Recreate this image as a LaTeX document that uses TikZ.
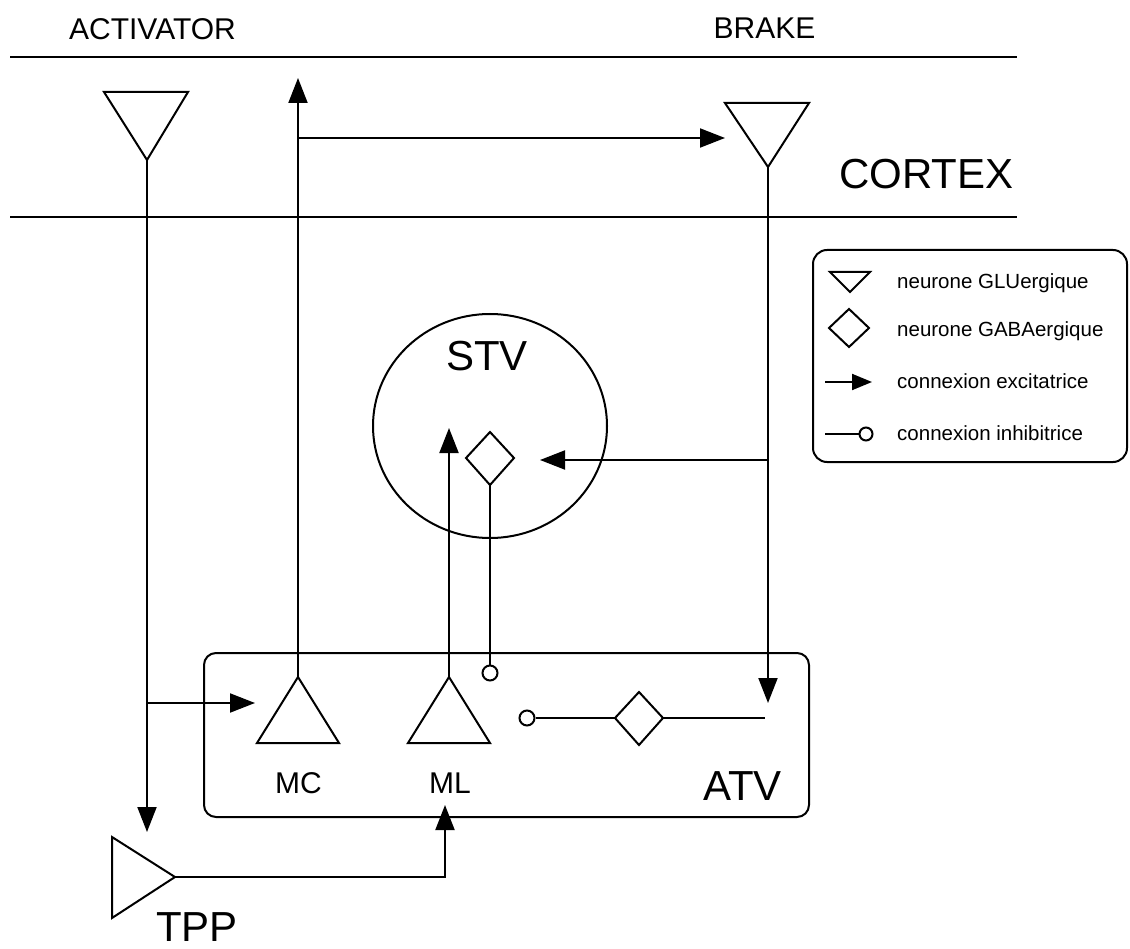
\documentclass[tikz,border=0pt]{standalone}
\usepackage{fontspec}
\setmainfont{Liberation Sans}
\usetikzlibrary{arrows.meta}
\begin{document}
\begin{tikzpicture}[x=1pt,y=-1pt,
  ln/.style={line width=2pt},
  exc/.style={line width=2pt,-{Triangle[length=25pt,width=19pt]}},
  cell/.style={line width=2pt,line join=miter},
  big/.style={font=\fontsize{42}{48}\selectfont,inner sep=0},
  mid/.style={font=\fontsize{30}{36}\selectfont,inner sep=0},
  leg/.style={font=\fontsize{20.5}{23}\selectfont,inner sep=0,anchor=base west},
  inh/.style={circle,draw,line width=2pt,minimum size=15pt,inner sep=0}]
\useasboundingbox (0,0) rectangle (1130,949);
% cortex lines
\coordinate (l1a) at (10,57); \coordinate (l1b) at (1017,57);
\coordinate (l2a) at (10,217); \coordinate (l2b) at (1017,217);
\draw[line width=2.5pt] (l1a) -- (l1b);
\draw[line width=2.5pt] (l2a) -- (l2b);
% labels
\node[mid] (tact) at (152.5,29) {ACTIVATOR};
\node[mid] (tbrk) at (764.5,28.5) {BRAKE};
\node[big] (tcor) at (926.5,174.5) {CORTEX};
\node[big] (tstv) at (487,356) {STV};
\node[mid] (tmc) at (298.5,783.5) {MC};
\node[mid] (tml) at (450,783.5) {ML};
\node[big] (tatv) at (742.5,786) {ATV};
\node[big] (ttpp) at (197,927) {TPP};
% boxes
\draw[ln,rounded corners=12pt] (204,653) rectangle (809,817);
\draw[ln] (490,426) ellipse [x radius=117, y radius=112];
% neurons
\draw[cell] (104,92) -- (188,92) -- (147,160) -- cycle;
\coordinate (actA) at (147,160);
\draw[cell] (725,103) -- (809,103) -- (768,167) -- cycle;
\coordinate (brkA) at (768,167);
\draw[cell] (257,743) -- (339,743) -- (298,677) -- cycle;
\coordinate (mcA) at (298,677);
\draw[cell] (408,743) -- (490,743) -- (449,677) -- cycle;
\coordinate (mlA) at (449,677);
\draw[cell] (112,837) -- (112,918) -- (175,877) -- cycle;
\coordinate (tppA) at (175,877);
\draw[cell] (490,432) -- (514,458) -- (490,485) -- (466,458) -- cycle;
\coordinate (stvD) at (490,485);
\draw[cell] (639,692) -- (663,718) -- (639,745) -- (615,718) -- cycle;
\coordinate (atvL) at (615,718); \coordinate (atvR) at (663,718);
% connectors
\coordinate (mcTop) at (298,78);
\coordinate (mcBr) at (298,138);
\coordinate (brkIn) at (725,138);
\draw[exc] (mcA) -- (mcTop);
\draw[exc] (mcBr) -- (brkIn);
\coordinate (actEnd) at (147,832);
\coordinate (actBr) at (147,703);
\coordinate (mcIn) at (255,703);
\draw[exc] (actA) -- (actEnd);
\draw[exc] (actBr) -- (mcIn);
\coordinate (brkEnd) at (768,703);
\coordinate (brkBr) at (768,460);
\coordinate (stvIn) at (540,460);
\draw[exc] (brkA) -- (brkEnd);
\draw[exc] (brkBr) -- (stvIn);
\coordinate (mlTop) at (449,428);
\draw[exc] (mlA) -- (mlTop);
\node[inh] (i1) at (490,673) {};
\draw[ln] (stvD) -- (i1);
\coordinate (tppC) at (445,877);
\coordinate (mlIn) at (445,805);
\draw[exc] (tppA) -- (tppC) -- (mlIn);
\node[inh] (i2) at (527,718) {};
\coordinate (atvEnd) at (765,718);
\draw[ln] (i2) -- (atvL);
\draw[ln] (atvR) -- (atvEnd);
% legend
\draw[ln,rounded corners=14pt] (813,250) rectangle (1127,462);
\draw[cell] (830,272) -- (870,272) -- (850,292) -- cycle;
\draw[cell] (849,309) -- (869,328) -- (849,347) -- (829,328) -- cycle;
\coordinate (lg3a) at (825,382); \coordinate (lg3b) at (872,382);
\draw[line width=2pt,-{Triangle[length=20pt,width=16pt]}] (lg3a) -- (lg3b);
\node[inh,minimum size=13pt] (lgc) at (866,434) {};
\coordinate (lg4a) at (825,434);
\draw[ln] (lg4a) -- (lgc);
\node[leg] (lt1) at (897,289) {neurone GLUergique};
\node[leg] (lt2) at (897,337) {neurone GABAergique};
\node[leg] (lt3) at (897,389) {connexion excitatrice};
\node[leg] (lt4) at (897,441) {connexion inhibitrice};
\end{tikzpicture}
\end{document}
